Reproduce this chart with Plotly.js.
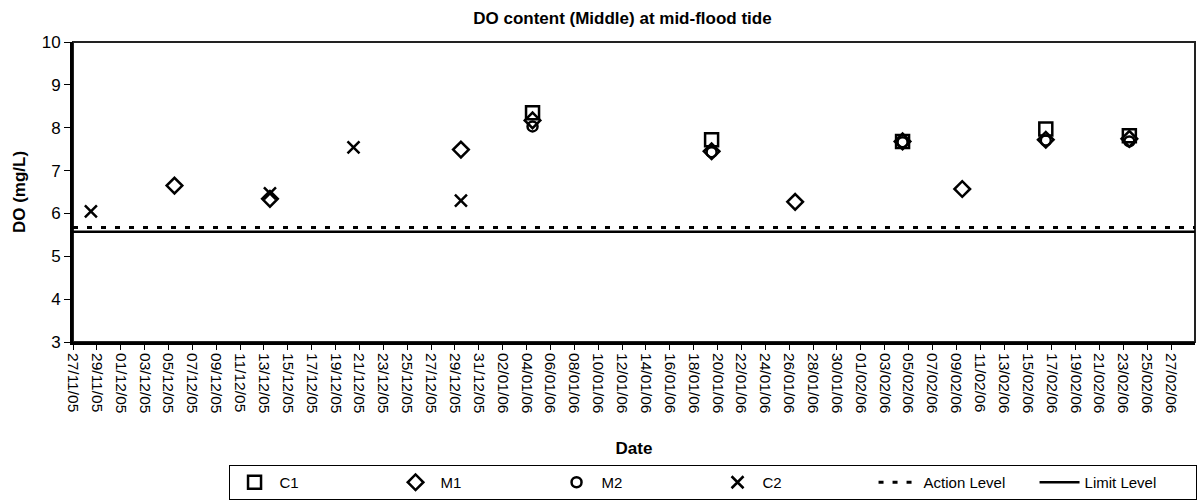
<!DOCTYPE html>
<html>
<head>
<meta charset="utf-8">
<script src="https://cdn.plot.ly/plotly-3.0.1.min.js"></script>
<style>
html,body{margin:0;padding:0;background:#fff;}
#chart{width:1197px;height:502px;}
</style>
</head>
<body>
<div id="chart"></div>
<script>
// ---- data (sampling dates, DO in mg/L) ----
const c1Dates = ["2006-01-04", "2006-01-19", "2006-02-04", "2006-02-16", "2006-02-23"];
const c1Values = [8.35, 7.72, 7.68, 7.97, 7.81];

const m1Dates = ["2005-12-05", "2005-12-13", "2005-12-29", "2006-01-04", "2006-01-19", "2006-01-26", "2006-02-04", "2006-02-09", "2006-02-16", "2006-02-23"];
const m1Values = [6.65, 6.34, 7.49, 8.17, 7.45, 6.27, 7.68, 6.57, 7.72, 7.74];

const m2Dates = ["2006-01-04", "2006-01-19", "2006-02-04", "2006-02-16", "2006-02-23"];
const m2Values = [8.03, 7.43, 7.66, 7.70, 7.68];

const c2Dates = ["2005-11-28", "2005-12-13", "2005-12-20", "2005-12-29"];
const c2Values = [6.05, 6.47, 7.54, 6.30];

const actionLevel = 5.67;
const limitLevel = 5.57;

const axisStart = "2005-11-27";
const axisEnd = "2006-03-01";

const tickLabels = ["27/11/05","29/11/05","01/12/05","03/12/05","05/12/05","07/12/05","09/12/05","11/12/05","13/12/05","15/12/05","17/12/05","19/12/05","21/12/05","23/12/05","25/12/05","27/12/05","29/12/05","31/12/05","02/01/06","04/01/06","06/01/06","08/01/06","10/01/06","12/01/06","14/01/06","16/01/06","18/01/06","20/01/06","22/01/06","24/01/06","26/01/06","28/01/06","30/01/06","01/02/06","03/02/06","05/02/06","07/02/06","09/02/06","11/02/06","13/02/06","15/02/06","17/02/06","19/02/06","21/02/06","23/02/06","25/02/06","27/02/06"];

// ---- helpers ----
// Excel date axis: each point sits in the middle of its day
function midDay(d){ return d + " 12:00"; }
function labelToDate(l){ const p = l.split("/"); return "20" + p[2] + "-" + p[1] + "-" + p[0]; }

const FONT = "Arial, 'Liberation Sans', sans-serif";

const traces = [
  {name:"C1", x:c1Dates.map(midDay), y:c1Values, type:"scatter", mode:"markers",
   marker:{symbol:"square-open", size:13, color:"#000", line:{width:2.5, color:"#000"}}},
  {name:"M1", x:m1Dates.map(midDay), y:m1Values, type:"scatter", mode:"markers",
   marker:{symbol:"diamond-open", size:12, color:"#000", line:{width:2.5, color:"#000"}}},
  {name:"M2", x:m2Dates.map(midDay), y:m2Values, type:"scatter", mode:"markers",
   marker:{symbol:"circle-open", size:10, color:"#000", line:{width:2.5, color:"#000"}}},
  {name:"C2", x:c2Dates.map(midDay), y:c2Values, type:"scatter", mode:"markers",
   marker:{symbol:"x-thin-open", size:12, color:"#000", line:{width:2.5, color:"#000"}}},
  {name:"Action Level", x:[axisStart, axisEnd], y:[actionLevel, actionLevel], type:"scatter", mode:"lines",
   line:{color:"#000", width:3, dash:"5px,9px"}},
  {name:"Limit Level", x:[axisStart, axisEnd], y:[limitLevel, limitLevel], type:"scatter", mode:"lines",
   line:{color:"#000", width:2.5}}
];

const layout = {
  width:1197, height:502,
  paper_bgcolor:"#fff", plot_bgcolor:"#fff",
  margin:{l:73, r:2, t:42, b:160, autoexpand:false},
  font:{family:FONT, color:"#000", size:15},
  title:{text:"<b>DO content (Middle) at mid-flood tide</b>", font:{family:FONT, size:17, color:"#000"},
         x:0.52, xanchor:"center", y:0.975, yanchor:"top"},
  showlegend:true,
  legend:{orientation:"h", x:0.570, xanchor:"center", y:-0.41, yanchor:"top",
          bordercolor:"#000", borderwidth:1, bgcolor:"#fff",
          font:{family:FONT, size:15, color:"#000"},
          entrywidth:106, entrywidthmode:"pixels", traceorder:"normal", tracegroupgap:0,
          itemwidth:40},
  xaxis:{type:"date", range:[axisStart, axisEnd],
         tickvals:tickLabels.map(labelToDate), ticktext:tickLabels, tickangle:90,
         tickfont:{family:FONT, size:15.5, color:"#000"},
         ticks:"outside", ticklen:5, tickwidth:1, tickcolor:"#000",
         showline:true, linecolor:"#000", linewidth:3, mirror:false,
         showgrid:false, zeroline:false, fixedrange:true, automargin:false,
         title:{text:"<b>Date</b>", font:{family:FONT, size:17, color:"#000"}, standoff:30}},
  yaxis:{range:[3,10], dtick:1, tick0:3,
         tickfont:{family:FONT, size:17, color:"#000"},
         ticks:"outside", ticklen:6, tickwidth:1, tickcolor:"#000",
         showline:true, linecolor:"#000", linewidth:3, mirror:false,
         showgrid:false, zeroline:false, fixedrange:true, automargin:false,
         title:{text:"<b>DO (mg/L)</b>", font:{family:FONT, size:17, color:"#000"}, standoff:12}},
  shapes:[{type:"rect", xref:"paper", yref:"paper", x0:0, x1:1, y0:0, y1:1,
           line:{color:"#222", width:2}, layer:"below"}]
};

Plotly.newPlot("chart", traces, layout, {displayModeBar:false, staticPlot:true});
</script>
</body>
</html>
